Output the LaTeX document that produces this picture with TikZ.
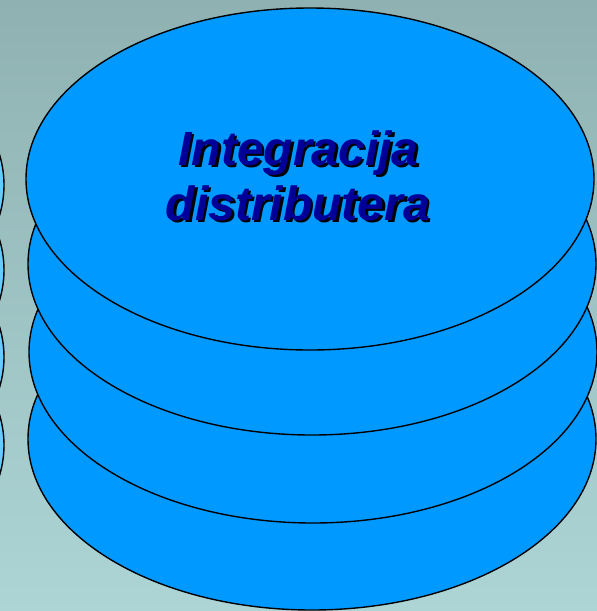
\documentclass[tikz,border=0pt]{standalone}
\usepackage{fontspec}
\setmainfont{Liberation Sans}
\definecolor{bgtop}{RGB}{143,177,177}
\definecolor{bgbot}{RGB}{173,213,214}
\definecolor{disk}{RGB}{0,153,255}
\definecolor{diskpale}{RGB}{102,204,255}
\definecolor{ink}{RGB}{0,0,153}
\tikzset{
  diskshape/.style={fill=disk,draw=black,line width=1.4pt},
  paledisk/.style={fill=diskpale,draw=black,line width=1.4pt},
  titletext/.style={font=\bfseries\itshape\fontsize{48}{55}\selectfont,inner sep=0pt,anchor=base},
}
\begin{document}
\begin{tikzpicture}[x=1pt,y=-1pt]
  \useasboundingbox (0,0) rectangle (597,611);
  % backdrop
  \shade[top color=bgtop,bottom color=bgbot] (0,0) rectangle (597,611);
  \clip (0,0) rectangle (597,611);
  % neighbouring stack, mostly off to the left
  \foreach \cy in {445,357,270,185}
    \draw[paledisk] (-280,\cy) ellipse [x radius=284, y radius=171];
  % stacked disks, bottom first
  \draw[diskshape] (312,439) ellipse [x radius=284, y radius=171];
  \draw[diskshape] (313,352) ellipse [x radius=284, y radius=171];
  \draw[diskshape] (312,264) ellipse [x radius=284, y radius=171];
  \draw[diskshape] (310,179) ellipse [x radius=284, y radius=171];
  % title with drop shadow
  \node[titletext,text=black] (shadowA) at (301,167.5) {Integracija};
  \node[titletext,text=black] (shadowB) at (300.5,222.5) {distributera};
  \node[titletext,text=ink] (lineA) at (298.5,165) {Integracija};
  \node[titletext,text=ink] (lineB) at (298,220) {distributera};
\end{tikzpicture}
\end{document}
